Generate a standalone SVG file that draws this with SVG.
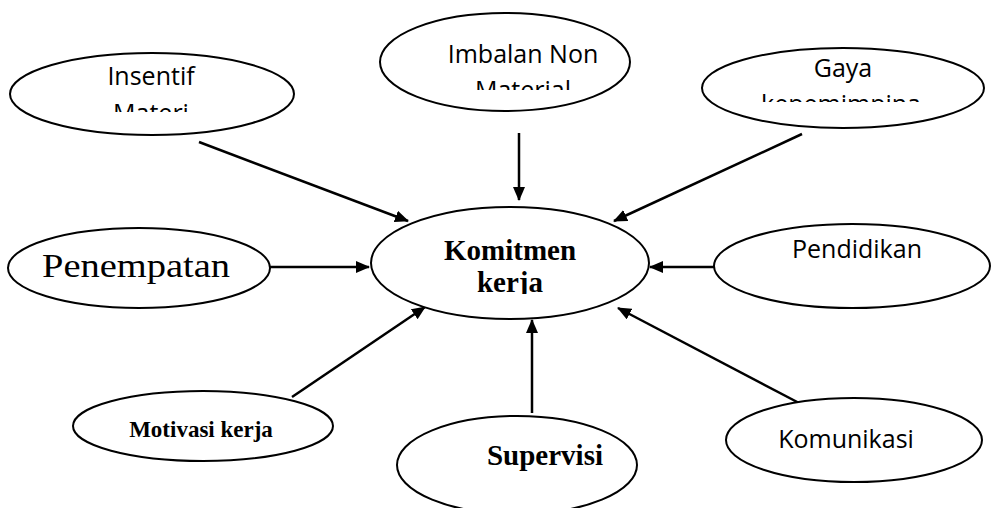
<svg xmlns="http://www.w3.org/2000/svg" width="991" height="508" viewBox="0 0 991 508">
<style>
.node ellipse{fill:#fff;stroke:#000;stroke-width:2}
.sans{font-family:"Open Sans","Noto Sans",sans-serif;font-size:25px;fill:#000;text-anchor:middle}
.serif{font-family:"Liberation Serif","Times New Roman",serif;fill:#000;text-anchor:middle}
.bold{font-weight:bold}
#connectors line{stroke:#000;stroke-width:2.5;marker-end:url(#arrow)}
</style>
<defs>
<marker id="arrow" viewBox="0 0 14 12" refX="13" refY="6" markerWidth="14" markerHeight="12" markerUnits="userSpaceOnUse" orient="auto">
<path d="M0,0 L14,6 L0,12 z" fill="#000"/>
</marker>
<clipPath id="c1"><rect x="0" y="0" width="991" height="112"/></clipPath>
<clipPath id="c2"><rect x="0" y="0" width="991" height="90"/></clipPath>
<clipPath id="c3"><rect x="0" y="0" width="991" height="102"/></clipPath>
<clipPath id="c4"><rect x="0" y="0" width="991" height="294"/></clipPath>
</defs>
<rect width="991" height="508" fill="#fff"/>
<g id="connectors">
<line x1="199" y1="142" x2="408" y2="221"/>
<line x1="519" y1="133" x2="519" y2="200"/>
<line x1="802" y1="134" x2="614" y2="221"/>
<line x1="270" y1="267" x2="369" y2="267"/>
<line x1="715" y1="267" x2="650" y2="267"/>
<line x1="292" y1="397" x2="425" y2="307"/>
<line x1="532" y1="413" x2="532" y2="320"/>
<line x1="801" y1="404" x2="618" y2="308"/>
</g>
<g id="insentif" class="node">
<ellipse cx="152" cy="94" rx="142" ry="41"/>
<g clip-path="url(#c1)"><text class="sans" x="151" y="85">Insentif</text><text class="sans" x="151" y="122">Materi</text></g>
</g>
<g id="imbalan" class="node">
<ellipse cx="505" cy="62" rx="125" ry="49"/>
<g clip-path="url(#c2)"><text class="sans" x="523" y="63">Imbalan Non</text><text class="sans" x="523" y="99">Material</text></g>
</g>
<g id="gaya" class="node">
<ellipse cx="843" cy="88" rx="141" ry="40"/>
<g clip-path="url(#c3)"><text class="sans" x="843" y="77">Gaya</text><text class="sans" x="841" y="113">kepemimpina</text></g>
</g>
<g id="komitmen" class="node">
<ellipse cx="510" cy="263" rx="139" ry="56"/>
<g clip-path="url(#c4)"><text class="serif bold" x="510" y="260" font-size="29">Komitmen</text><text class="serif bold" x="510" y="292" font-size="29">kerja</text></g>
</g>
<g id="penempatan" class="node">
<ellipse cx="139" cy="268" rx="131" ry="40"/>
<text class="serif" x="136" y="277" font-size="33" textLength="188" lengthAdjust="spacingAndGlyphs">Penempatan</text>
</g>
<g id="pendidikan" class="node">
<ellipse cx="852" cy="266" rx="138" ry="42"/>
<text class="sans" x="857" y="258">Pendidikan</text>
</g>
<g id="motivasi" class="node">
<ellipse cx="203" cy="426" rx="130" ry="35"/>
<text class="serif bold" x="201" y="437" font-size="23">Motivasi kerja</text>
</g>
<g id="supervisi" class="node">
<ellipse cx="517" cy="465" rx="120" ry="49"/>
<text class="serif bold" x="545" y="465" font-size="29">Supervisi</text>
</g>
<g id="komunikasi" class="node">
<ellipse cx="854" cy="440" rx="128" ry="42"/>
<text class="sans" x="846" y="448">Komunikasi</text>
</g>
</svg>
